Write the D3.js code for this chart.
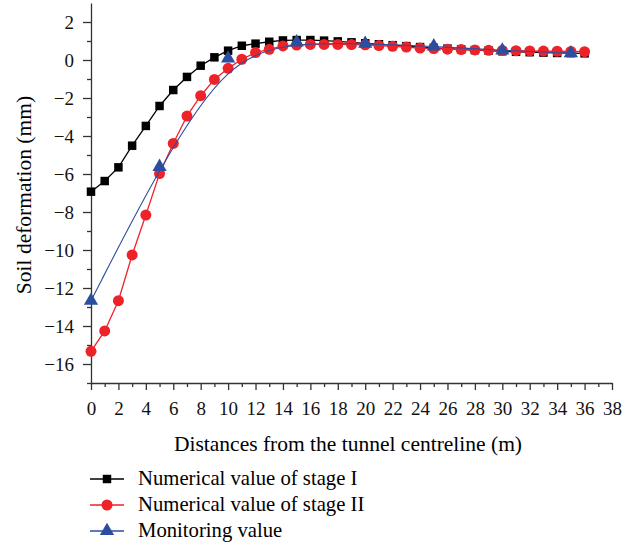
<!DOCTYPE html>
<html>
<head>
<meta charset="utf-8">
<script src="https://cdn.jsdelivr.net/npm/d3@7"></script>
<style>
  body { margin: 0; background: #fff; }
  text { font-family: "Liberation Serif", "Times New Roman", serif; }
</style>
</head>
<body>
<script>
// distances from the tunnel centreline (m)
var distances = [0,1,2,3,4,5,6,7,8,9,10,11,12,13,14,15,16,17,18,19,20,21,22,23,24,25,26,27,28,29,30,31,32,33,34,35,36];
// soil deformation (mm), stage I
var stage1 = [-6.93,-6.37,-5.65,-4.51,-3.47,-2.42,-1.58,-0.89,-0.30,0.14,0.49,0.75,0.86,0.96,1.03,1.05,1.05,1.02,0.98,0.93,0.88,0.83,0.78,0.73,0.68,0.64,0.60,0.56,0.52,0.49,0.46,0.43,0.41,0.39,0.37,0.36,0.35];
// stage II
var stage2 = [-15.33,-14.26,-12.67,-10.26,-8.16,-5.98,-4.39,-2.95,-1.88,-1.02,-0.44,0.04,0.39,0.56,0.74,0.79,0.82,0.82,0.82,0.81,0.80,0.76,0.72,0.68,0.63,0.60,0.57,0.55,0.53,0.51,0.50,0.49,0.48,0.47,0.46,0.45,0.44];
// monitoring
var monitorX = [0,5,10,15,20,25,30,35];
var monitorY = [-12.67,-5.62,0.08,0.93,0.86,0.72,0.50,0.36];

var xTicks = d3.range(0, 39, 2);
var yTicks = d3.range(-16, 3, 2);
var legendNames = ["Numerical value of stage I", "Numerical value of stage II", "Monitoring value"];

var W = 637, H = 548;
var mLeft = 91, mRight = 612, mTop = 3, mBottom = 383;

var svg = d3.select("body").append("svg")
  .attr("width", W)
  .attr("height", H);

var x = d3.scaleLinear().domain([0, 38]).range([mLeft, mRight]);
var y = d3.scaleLinear().domain([-17, 3]).range([mBottom, mTop]);

var tickFs = 19, titleFs = 21.5, legFs = 20.7;

// minor ticks
svg.append("g")
  .attr("transform", "translate(0," + mBottom + ")")
  .call(d3.axisBottom(x).tickValues(d3.range(1, 38, 2)).tickSize(4).tickFormat(""))
  .call(function(g){ g.select(".domain").remove(); });
svg.append("g")
  .attr("transform", "translate(" + mLeft + ",0)")
  .call(d3.axisLeft(y).tickValues(d3.range(-17, 3, 2)).tickSize(4).tickFormat(""))
  .call(function(g){ g.select(".domain").remove(); });

svg.append("g")
  .attr("transform", "translate(0," + mBottom + ")")
  .call(d3.axisBottom(x).tickValues(xTicks).tickSize(7).tickSizeOuter(0).tickPadding(12));
svg.append("g")
  .attr("transform", "translate(" + mLeft + ",0)")
  .call(d3.axisLeft(y).tickValues(yTicks).tickSize(8).tickSizeOuter(0).tickPadding(9));

svg.selectAll(".tick line, .domain").attr("stroke", "#333").attr("stroke-width", 1.3);
svg.selectAll(".tick text").attr("font-size", tickFs).attr("fill", "#111")
  .style("font-family", "'Liberation Serif', serif");

// axis titles
svg.append("text")
  .attr("x", 348).attr("y", 451)
  .attr("text-anchor", "middle")
  .attr("font-size", titleFs)
  .text("Distances from the tunnel centreline (m)");
svg.append("text")
  .attr("transform", "translate(31,195) rotate(-90)")
  .attr("text-anchor", "middle")
  .attr("font-size", titleFs)
  .text("Soil deformation (mm)");

var black = "#000000", red = "#ee2229", blue = "#2c4e9e";

var line = d3.line().x(function(d){ return x(d[0]); }).y(function(d){ return y(d[1]); });

var s1 = distances.map(function(d, i){ return [d, stage1[i]]; });
var s2 = distances.map(function(d, i){ return [d, stage2[i]]; });
var s3 = monitorX.map(function(d, i){ return [d, monitorY[i]]; });

var sq = d3.symbol().type(d3.symbolSquare).size(72);
var ci = d3.symbol().type(d3.symbolCircle).size(95);
var tri = d3.symbol().type(d3.symbolTriangle).size(88);

// stage I
svg.append("path").datum(s1).attr("d", line)
  .attr("fill", "none").attr("stroke", black).attr("stroke-width", 1.3);
svg.append("g").selectAll("path").data(s1).enter().append("path")
  .attr("d", sq)
  .attr("transform", function(d){ return "translate(" + x(d[0]) + "," + y(d[1]) + ")"; })
  .attr("fill", black);

// stage II
svg.append("path").datum(s2).attr("d", line)
  .attr("fill", "none").attr("stroke", red).attr("stroke-width", 1.3);
svg.append("g").selectAll("path").data(s2).enter().append("path")
  .attr("d", ci)
  .attr("transform", function(d){ return "translate(" + x(d[0]) + "," + y(d[1]) + ")"; })
  .attr("fill", red);

// monitoring (smoothed)
svg.append("path").datum(s3).attr("d", line.curve(d3.curveBasis))
  .attr("fill", "none").attr("stroke", blue).attr("stroke-width", 1.1);
svg.append("g").selectAll("path").data(s3).enter().append("path")
  .attr("d", tri)
  .attr("transform", function(d){ return "translate(" + x(d[0]) + "," + y(d[1]) + ")"; })
  .attr("fill", blue);

// legend
var legColors = [black, red, blue];
var legSyms = [sq, ci, tri];
var leg = svg.append("g");
legendNames.forEach(function(name, i){
  var by = 485 + i * 26;
  var cy = by - 6;
  leg.append("line").attr("x1", 90).attr("x2", 124).attr("y1", cy).attr("y2", cy)
    .attr("stroke", legColors[i]).attr("stroke-width", 1.3);
  leg.append("path").attr("d", legSyms[i])
    .attr("transform", "translate(107," + cy + ")")
    .attr("fill", legColors[i]);
  leg.append("text").attr("x", 138).attr("y", by)
    .attr("font-size", legFs).text(name);
});
</script>
</body>
</html>
